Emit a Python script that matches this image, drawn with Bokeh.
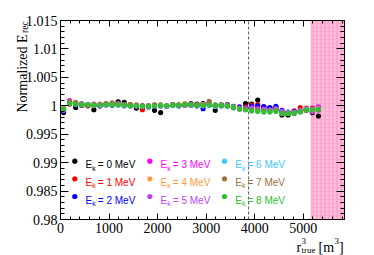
import math
from bokeh.plotting import figure
from bokeh.models import (FixedTicker, LinearAxis, Range1d, BoxAnnotation,
                          Label, CustomJSTickFormatter)
from bokeh.embed import file_html
from bokeh.resources import INLINE

# ---------------- data ----------------
r3_true = [62.5, 187.5, 312.5, 437.5, 562.5, 687.5, 812.5, 937.5, 1062.5, 1187.5,
           1312.5, 1437.5, 1562.5, 1687.5, 1812.5, 1937.5, 2062.5, 2187.5, 2312.5, 2437.5,
           2562.5, 2687.5, 2812.5, 2937.5, 3062.5, 3187.5, 3312.5, 3437.5, 3562.5, 3687.5,
           3812.5, 3937.5, 4062.5, 4187.5, 4312.5, 4437.5, 4562.5, 4687.5, 4812.5, 4937.5,
           5062.5, 5187.5, 5312.5]

e0 = [0.9988, 1.0004, 0.9997, 1.0001, 1.0000, 0.9993, 1.0000, 1.0002, 1.0003, 1.0007,
      1.0006, 1.0002, 0.9996, 0.9995, 1.0000, 0.9992, 0.9988, 1.0000, 1.0002, 1.0001,
      1.0002, 1.0004, 1.0003, 1.0004, 1.0005, 0.9992, 1.0001, 1.0002, 0.9999, 0.9997,
      1.0004, 1.0003, 1.0010, 0.9998, 0.9996, 0.9997, 0.9984, 0.9984, 0.9987, 0.9990,
      0.9992, 0.9988, 0.9982]
e1 = [0.9993, 1.0003, 1.0002, 1.0001, 1.0002, 1.0000, 1.0001, 1.0003, 1.0002, 1.0002,
      1.0001, 1.0000, 0.9999, 0.9993, 0.9999, 1.0000, 1.0000, 0.9999, 1.0001, 1.0000,
      1.0001, 1.0001, 1.0000, 1.0000, 1.0003, 1.0000, 1.0001, 1.0000, 0.9998, 0.9996,
      0.9998, 1.0001, 1.0002, 0.9998, 0.9996, 0.9996, 0.9990, 0.9988, 0.9991, 0.9997,
      0.9996, 0.9996, 0.9995]
e2 = [0.9991, 1.0005, 1.0002, 1.0002, 1.0001, 1.0001, 1.0000, 1.0002, 1.0001, 1.0003,
      1.0000, 1.0000, 0.9999, 1.0000, 0.9998, 1.0000, 1.0000, 0.9999, 1.0001, 1.0000,
      1.0002, 1.0001, 1.0000, 0.9995, 1.0002, 1.0000, 1.0000, 0.9999, 0.9997, 0.9998,
      0.9997, 0.9999, 1.0000, 0.9998, 0.9997, 0.9999, 0.9992, 0.9989, 0.9990, 0.9990,
      0.9993, 0.9992, 0.9993]
e3 = [0.9993, 1.0009, 1.0004, 1.0003, 1.0002, 1.0003, 1.0002, 1.0003, 1.0003, 1.0004,
      1.0002, 1.0001, 1.0001, 1.0000, 1.0000, 1.0001, 1.0001, 1.0000, 1.0002, 1.0001,
      1.0002, 1.0003, 1.0001, 1.0002, 1.0003, 1.0001, 1.0002, 1.0001, 0.9998, 0.9996,
      0.9995, 0.9996, 0.9995, 0.9993, 0.9992, 0.9994, 0.9989, 0.9988, 0.9989, 0.9991,
      0.9994, 0.9994, 0.9998]
e4 = [0.9996, 1.0006, 1.0005, 1.0003, 1.0002, 1.0001, 1.0003, 1.0004, 1.0002, 1.0003,
      1.0001, 1.0001, 1.0001, 0.9999, 1.0000, 1.0002, 1.0001, 1.0000, 1.0002, 1.0002,
      1.0004, 1.0002, 1.0001, 1.0002, 1.0004, 1.0001, 1.0002, 1.0000, 0.9997, 0.9995,
      0.9994, 0.9994, 0.9993, 0.9992, 0.9991, 0.9993, 0.9988, 0.9987, 0.9988, 0.9990,
      0.9993, 0.9993, 0.9995]
e5 = [0.9992, 1.0006, 1.0004, 1.0004, 1.0002, 1.0002, 1.0002, 1.0002, 1.0003, 1.0003,
      1.0002, 1.0000, 1.0000, 1.0000, 0.9999, 1.0001, 1.0000, 1.0000, 1.0002, 1.0001,
      1.0001, 1.0002, 1.0001, 1.0001, 1.0002, 1.0000, 1.0002, 1.0001, 0.9998, 0.9996,
      0.9996, 0.9996, 0.9994, 0.9994, 0.9993, 0.9995, 0.9990, 0.9988, 0.9989, 0.9990,
      0.9993, 0.9990, 0.9993]
e6 = [0.9994, 1.0005, 1.0003, 1.0002, 1.0002, 1.0001, 1.0001, 1.0003, 1.0002, 1.0001,
      1.0001, 1.0000, 1.0000, 0.9999, 0.9999, 1.0000, 1.0000, 0.9999, 1.0001, 1.0000,
      1.0002, 1.0001, 1.0000, 1.0000, 1.0001, 0.9999, 1.0000, 0.9999, 0.9996, 0.9995,
      0.9993, 0.9993, 0.9992, 0.9992, 0.9991, 0.9993, 0.9988, 0.9988, 0.9988, 0.9991,
      0.9994, 0.9993, 0.9994]
e7 = [0.9995, 1.0007, 1.0006, 1.0003, 1.0001, 1.0002, 1.0002, 1.0004, 1.0005, 1.0003,
      1.0002, 1.0002, 1.0001, 1.0000, 1.0000, 1.0001, 1.0001, 1.0000, 1.0002, 1.0001,
      1.0003, 1.0002, 1.0001, 1.0001, 1.0008, 1.0001, 1.0001, 1.0000, 0.9997, 0.9995,
      0.9994, 0.9993, 0.9992, 0.9991, 0.9990, 0.9992, 0.9987, 0.9987, 0.9988, 0.9990,
      0.9992, 0.9992, 0.9993]
e8 = [0.9994, 1.0004, 1.0003, 1.0002, 1.0002, 1.0001, 1.0001, 1.0002, 1.0002, 1.0002,
      1.0001, 1.0000, 1.0000, 0.9999, 0.9999, 1.0000, 1.0001, 1.0000, 1.0001, 1.0001,
      1.0002, 1.0002, 1.0001, 1.0001, 1.0001, 1.0001, 1.0001, 1.0000, 0.9998, 0.9994,
      0.9993, 0.9991, 0.9990, 0.9989, 0.9989, 0.9990, 0.9986, 0.9986, 0.9987, 0.9989,
      0.9993, 0.9993, 0.9994]

series = [e0, e1, e2, e3, e4, e5, e6, e7, e8]
energies = ["0", "1", "2", "3", "4", "5", "6", "7", "8"]
colors = ["#000000", "#ff0000", "#0000ff", "#ff00ff", "#ff9a40",
          "#c040ff", "#3cc8ff", "#9c7040", "#30c030"]

x_ticks = [0, 1000, 2000, 3000, 4000, 5000]
x_minor = [200 * k for k in range(0, 30)]
y_ticks = [0.98, 0.985, 0.99, 0.995, 1.0, 1.005, 1.01, 1.015]
y_minor = [round(0.98 + 0.001 * k, 3) for k in range(0, 36)]

fv_cut = 3875                    # dashed line
band_lo, band_hi = 5165, 5850    # hatched region

X0, X1 = 0, 5850
Y0, Y1 = 0.98, 1.015

# ---------------- layout (canvas pixels) ----------------
W, H = 374, 255
FL, FR, FT, FB = 60, 344, 20, 219     # axis box in canvas pixels


def dx(px):
    return X0 + (px - FL) / (FR - FL) * (X1 - X0)


def dy(py):
    return Y0 + (FB - py) / (FB - FT) * (Y1 - Y0)


p = figure(width=W, height=H, x_range=Range1d(dx(0), dx(W)), y_range=Range1d(dy(H), dy(0)),
           output_backend="svg", toolbar_location=None, x_axis_type=None, y_axis_type=None,
           min_border_left=0, min_border_right=0, min_border_top=0, min_border_bottom=0)
p.grid.visible = False
p.outline_line_color = None
p.background_fill_color = "white"
p.border_fill_color = "white"

SERIF = "Liberation Serif"
SANS = "Liberation Sans"

xt = FixedTicker(ticks=x_ticks, minor_ticks=x_minor)
yt = FixedTicker(ticks=y_ticks, minor_ticks=y_minor)
blank = "return '';"


def style(ax, tin, labels):
    ax.major_tick_in = tin
    ax.major_tick_out = 0
    ax.minor_tick_in = tin // 2
    ax.minor_tick_out = 0
    ax.axis_line_color = "black"
    ax.major_tick_line_color = "black"
    ax.minor_tick_line_color = "black"
    ax.major_label_text_font = SERIF
    ax.major_label_text_font_size = "14px"
    ax.major_label_text_color = "black"
    ax.major_label_standoff = 3 if labels else 0


bottom = LinearAxis(ticker=xt, fixed_location=Y0, bounds=(X0, X1),
                    formatter=CustomJSTickFormatter(code="return String(Math.round(tick));"))
left = LinearAxis(ticker=yt, fixed_location=X0, bounds=(Y0, Y1),
                  formatter=CustomJSTickFormatter(code="return String(parseFloat(tick.toFixed(3)));"))
top = LinearAxis(ticker=xt, fixed_location=Y1, bounds=(X0, X1),
                 formatter=CustomJSTickFormatter(code=blank))
right = LinearAxis(ticker=yt, fixed_location=X1, bounds=(Y0, Y1),
                   formatter=CustomJSTickFormatter(code=blank))
style(bottom, 6, True)
style(left, 8, True)
style(top, 6, False)
style(right, 8, False)
p.add_layout(bottom, "below")
p.add_layout(left, "left")
p.add_layout(top, "above")
p.add_layout(right, "right")

# hatched region
band = BoxAnnotation(left=band_lo, right=band_hi, bottom=Y0, top=Y1,
                     fill_color="#ffa8cf", fill_alpha=1.0,
                     hatch_pattern=":", hatch_color="#ffffff", hatch_alpha=0.55, hatch_scale=4,
                     line_color="#ff6fa8", line_width=1.5, level="underlay")
p.add_layout(band)

# dashed vertical line
p.segment(x0=[fv_cut], y0=[Y0], x1=[fv_cut], y1=[Y1], line_color="#555555",
          line_dash="3 2", line_width=1)

for ys, c in zip(series, colors):
    p.scatter(r3_true, ys, size=5.2, fill_color=c, line_color=None)


def lab(text, px, py, size, font=SERIF, color="black", angle=0.0):
    p.add_layout(Label(x=px, y=H - py, x_units="screen", y_units="screen",
                       text=text, text_font=font, text_font_size=size, text_color=color,
                       text_align="left", text_baseline="alphabetic", angle=angle))


# ---------------- legend (3 columns x 3 rows) ----------------
col_px = [74.3, 149.3, 224.0]
row_py = [160.7, 178.3, 196.0]
for k, (en, c) in enumerate(zip(energies, colors)):
    px = col_px[k // 3]
    py = row_py[k % 3]
    p.scatter([dx(px)], [dy(py)], size=5.2, fill_color=c, line_color=None)
    tx = px + 10.7
    base = py + 3.6
    lab("E", tx, base, "10px", SANS, c)
    lab("k", tx + 6.7, base + 3.5, "7px", SANS, c)
    lab("= " + en + " MeV", tx + 12.3, base, "10px", SANS, c)

# ---------------- axis titles ----------------
lab("Normalized E", 21.5, 112, "14px", angle=math.pi / 2)
lab("rec", 24.5, 32.5, "9.5px", angle=math.pi / 2)

bx = 246.5
lab("r", 296, bx, "14px")
lab("3", 301, bx - 6.5, "9px")
lab("true", 301, bx + 3, "9px")
lab("[m", 318, bx, "14px")
lab("3", 334, bx - 6.5, "9px")
lab("]", 338.5, bx, "14px")

open("out.html", "w").write(file_html(p, INLINE))
